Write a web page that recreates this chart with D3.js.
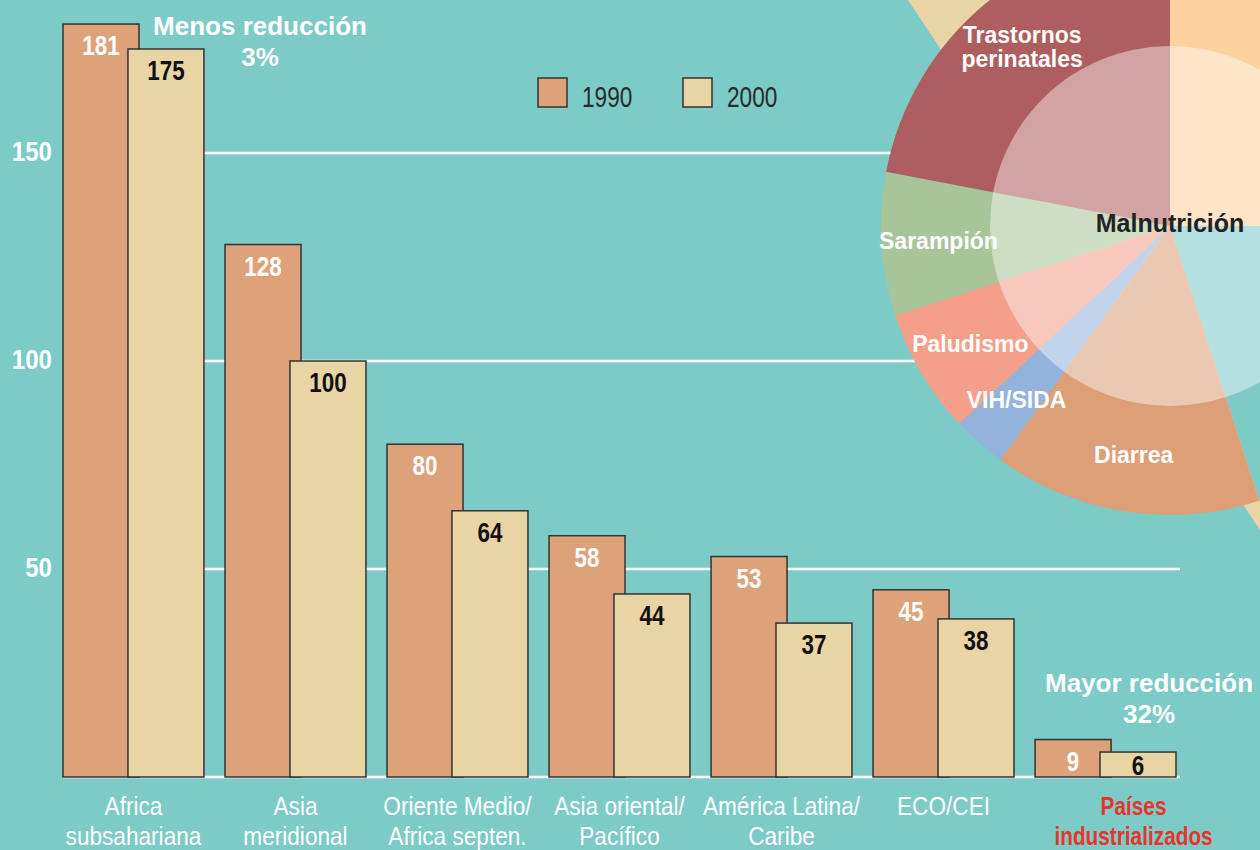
<!DOCTYPE html>
<html>
<head>
<meta charset="utf-8">
<script src="https://cdn.jsdelivr.net/npm/d3@7"></script>
<style>
  body { margin: 0; background: #7ccbc7; }
  svg { display: block; }
  text { font-family: "Liberation Sans", Arial, sans-serif; }
  .bold { font-weight: bold; }
</style>
</head>
<body>
<svg id="chart"></svg>
<script>
// bar data (muertes de menores de 5 anos por 1.000 nacidos vivos)
var regions = [
  ["Africa", "subsahariana"],
  ["Asia", "meridional"],
  ["Oriente Medio/", "Africa septen."],
  ["Asia oriental/", "Pacífico"],
  ["América Latina/", "Caribe"],
  ["ECO/CEI"],
  ["Países", "industrializados"]
];
var years = ["1990", "2000"];
var values1990 = [181, 128, 80, 58, 53, 45, 9];
var values2000 = [175, 100, 64, 44, 37, 38, 6];
var yTicks = [50, 100, 150];

// pie data (causas de muerte, %)
var causes = ["Infecciones respiratorias agudas", "Otras", "Diarrea", "VIH/SIDA", "Paludismo", "Sarampión", "Trastornos perinatales"];
var causeShares = [25, 20, 15, 3, 7, 8, 22];
var causeLabels = [null, null, ["Diarrea"], ["VIH/SIDA"], ["Paludismo"], ["Sarampión"], ["Trastornos", "perinatales"]];
var overlayLabel = "Malnutrición";

var width = 1260,
    height = 850;

var bg = "#7ccbc7";
var barColors = {"1990": "#dea27a", "2000": "#e8d4a4"};
var causeColors = ["#fdd29e", "#7ccbc7", "#dc9f78", "#94b3dc", "#f59e8a", "#a8c59a", "#ae5e5e"];

// no condensed font installed, so squeeze the normal one horizontally
function narrow(x, y, s) {
  return "translate(" + x + "," + y + ") scale(" + s + ",1)";
}

var svg = d3.select("#chart")
  .attr("width", width)
  .attr("height", height);

svg.append("rect")
  .attr("width", width)
  .attr("height", height)
  .attr("fill", bg);

// scales
var x0 = d3.scaleBand()
  .domain(d3.range(regions.length))
  .range([63, 1176])
  .paddingInner(0.13)
  .paddingOuter(0);

// negative padding -> 2000 bar overlaps the 1990 bar
var x1 = d3.scaleBand()
  .domain(years)
  .range([0, x0.bandwidth()])
  .paddingInner(-0.17);

var yScale = d3.scaleLinear()
  .domain([0, 150])
  .range([777, 153]);

// pie geometry
var cx = 1170, cy = 226,
    outerR = 289, innerR = 180;

// beige wedge behind the pie
svg.append("path")
  .attr("d", d3.line()([[cx - 262, 0], [width, 0], [width, cy + 304]]) + "Z")
  .attr("fill", barColors["2000"]);

// gridlines
svg.append("g")
  .selectAll("line")
  .data([0].concat(yTicks))
  .enter().append("line")
  .attr("x1", x0.range()[0])
  .attr("x2", 1180)
  .attr("y1", d => yScale(d))
  .attr("y2", d => yScale(d))
  .attr("stroke", "#fff")
  .attr("stroke-width", 2.5);

// y tick labels
svg.append("g")
  .selectAll("text")
  .data(yTicks)
  .enter().append("text")
  .attr("class", "bold")
  .attr("transform", d => narrow(52, yScale(d) + 8, 0.86))
  .attr("text-anchor", "end")
  .attr("font-size", 28)
  .attr("fill", "#fff")
  .text(d => d);

// bars
var rows = regions.map(function(r, i) {
  return {i: i, vals: [{year: "1990", v: values1990[i]}, {year: "2000", v: values2000[i]}]};
});

var groups = svg.append("g")
  .selectAll("g")
  .data(rows)
  .enter().append("g")
  .attr("transform", d => "translate(" + x0(d.i) + ",0)");

groups.selectAll("rect")
  .data(d => d.vals)
  .enter().append("rect")
  .attr("x", d => x1(d.year))
  .attr("y", d => yScale(d.v))
  .attr("width", x1.bandwidth())
  .attr("height", d => yScale(0) - yScale(d.v))
  .attr("fill", d => barColors[d.year])
  .attr("stroke", "#333")
  .attr("stroke-width", 1.5);

groups.selectAll("text")
  .data(d => d.vals)
  .enter().append("text")
  .attr("class", "bold")
  .attr("transform", d => narrow(x1(d.year) + x1.bandwidth() / 2, Math.min(yScale(d.v) + 31, yScale(0) - 2), 0.8))
  .attr("text-anchor", "middle")
  .attr("font-size", 28)
  .attr("fill", d => d.year == "1990" ? "#fff" : "#111")
  .text(d => d.v);

// region labels
var last = regions.length - 1;
var catLabels = svg.append("g")
  .selectAll("text")
  .data(regions)
  .enter().append("text")
  .attr("text-anchor", "middle")
  .attr("font-size", 26)
  .attr("font-weight", (d, i) => i == last ? "bold" : "normal")
  .attr("fill", (d, i) => i == last ? "#e8352b" : "#fff")
  .attr("transform", (d, i) => narrow(x0(i) + x0.bandwidth() / 2 + (i == last ? 28 : 0), 815, i == last ? 0.8 : 0.87));

catLabels.selectAll("tspan")
  .data(d => d)
  .enter().append("tspan")
  .attr("x", 0)
  .attr("y", (d, i) => i * 30)
  .text(d => d);

// pie
var pie = d3.pie().sort(null).value(d => d);
var arcs = pie(causeShares);
var arc = d3.arc().innerRadius(0).outerRadius(outerR);
var labelArc = d3.arc().innerRadius(232).outerRadius(232);

var pieG = svg.append("g")
  .attr("transform", "translate(" + cx + "," + cy + ")");

pieG.selectAll("path")
  .data(arcs)
  .enter().append("path")
  .attr("d", arc)
  .attr("fill", (d, i) => causeColors[i]);

// malnutrition overlay
pieG.append("circle")
  .attr("r", innerR)
  .attr("fill", "#fff")
  .attr("fill-opacity", 0.43);

var pieLabels = pieG.selectAll(".pie-label")
  .data(arcs.filter((d, i) => causeLabels[i]))
  .enter().append("text")
  .attr("class", "bold pie-label")
  .attr("text-anchor", "middle")
  .attr("font-size", 23)
  .attr("fill", "#fff")
  .attr("transform", d => "translate(" + labelArc.centroid(d) + ")");

pieLabels.selectAll("tspan")
  .data(d => causeLabels[d.index])
  .enter().append("tspan")
  .attr("x", 0)
  .attr("y", (d, i, n) => (i - (n.length - 1) / 2) * 24)
  .attr("dy", "0.35em")
  .text(d => d);

pieG.append("text")
  .attr("class", "bold")
  .attr("text-anchor", "middle")
  .attr("y", 6)
  .attr("font-size", 25)
  .attr("fill", "#222")
  .text(overlayLabel);

// legend
var legend = svg.append("g")
  .selectAll("g")
  .data(years)
  .enter().append("g")
  .attr("transform", (d, i) => "translate(" + (538 + i * 145) + ",78)");

legend.append("rect")
  .attr("width", 29)
  .attr("height", 29)
  .attr("fill", d => barColors[d])
  .attr("stroke", "#333")
  .attr("stroke-width", 1.5);

legend.append("text")
  .attr("transform", narrow(44, 29, 0.78))
  .attr("font-size", 29)
  .attr("fill", "#2a2a2a")
  .text(d => d);

// annotations
var notes = [
  {lines: ["Menos reducción", "3%"], x: x0(0) + 197, y: 35},
  {lines: ["Mayor reducción", "32%"], x: x0(last) + 114, y: 692}
];

var noteText = svg.append("g")
  .selectAll("text")
  .data(notes)
  .enter().append("text")
  .attr("class", "bold")
  .attr("text-anchor", "middle")
  .attr("font-size", 26)
  .attr("fill", "#fff")
  .attr("transform", d => "translate(" + d.x + "," + d.y + ")");

noteText.selectAll("tspan")
  .data(d => d.lines)
  .enter().append("tspan")
  .attr("x", 0)
  .attr("y", (d, i) => i * 31)
  .text(d => d);
</script>
</body>
</html>
